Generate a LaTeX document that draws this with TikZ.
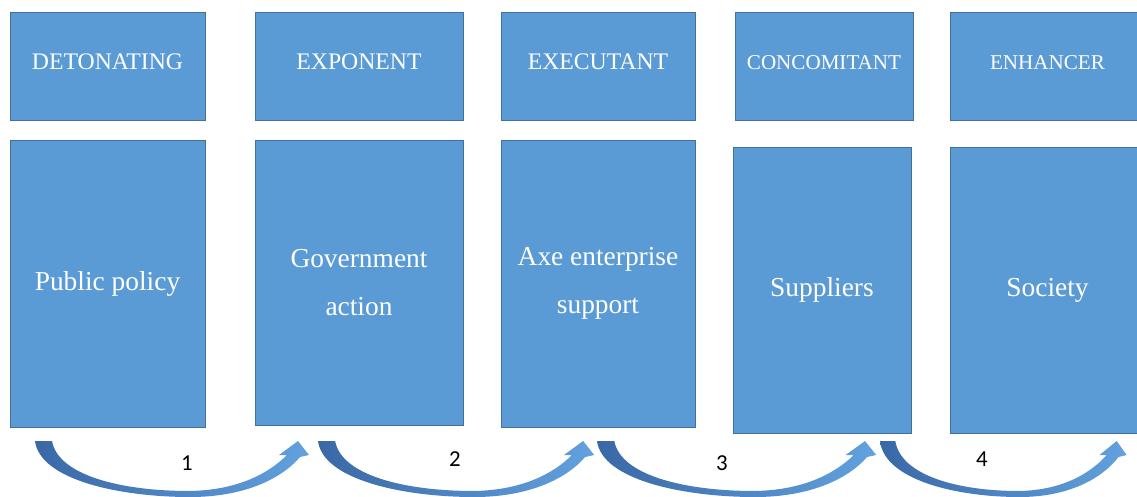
\documentclass[tikz,border=0pt]{standalone}
\usepackage{fontspec}
\setmainfont{Liberation Serif}
\newfontfamily\numfont{Carlito}

\definecolor{boxblue}{RGB}{91,155,213}
\definecolor{boxedge}{RGB}{65,113,156}
\definecolor{arrowdark}{RGB}{58,104,166}
\definecolor{arrowlight}{RGB}{98,162,222}

\tikzset{
  headbox/.style={draw=boxedge, fill=boxblue, line width=0.5pt, text=white,
    minimum height=2.16cm, inner sep=0pt, text height=9pt, text depth=4.7pt,
    font=\fontsize{13.5}{16}\selectfont},
  mainbox/.style={draw=boxedge, fill=boxblue, line width=0.5pt, text=white,
    inner sep=0pt, align=center, font=\fontsize{15.6}{27}\selectfont},
  stepnum/.style={font=\numfont\fontsize{13}{15}\selectfont, text=black},
  bentshade/.style={left color=arrowdark, right color=arrowlight}
}

% flecha curva: nombre, x inicial, escala horizontal
\newcommand{\bentarrow}[3]{%
  \begin{scope}[shift={(#2,441)}, xscale=#3]
    \coordinate (#1s) at (0,0);
    \coordinate (#1t) at (263,0);
    \path[bentshade] (#1s) .. controls (5,39) and (85,56) .. (155,56)
      .. controls (215,56) and (250,34) .. (265,16) -- (274,14) -- (#1t)
      -- (244,14) -- (252,14) .. controls (235,31) and (205,49) .. (155,50)
      .. controls (85,50) and (23,34) .. (17,0) -- cycle;
  \end{scope}}

\begin{document}
\begin{tikzpicture}[x=0.02cm, y=-0.02cm]
    \useasboundingbox (0,0) rectangle (1137,497);
    \clip (0,0) rectangle (1137,497);

    % Cajas superiores
    \node[headbox, minimum width=3.9cm] (h1) at (107.5,66) {DETONATING};
    \node[headbox, minimum width=4.16cm] (h2) at (359,66) {EXPONENT};
    \node[headbox, minimum width=3.88cm] (h3) at (598,66) {EXECUTANT};
    \node[headbox, minimum width=3.56cm, font=\fontsize{12}{14}\selectfont] (h4) at (824,66) {CONCOMITANT};
    \node[headbox, minimum width=3.9cm, font=\fontsize{12}{14}\selectfont] (h5) at (1047.5,66) {ENHANCER};

    % Cajas principales
    \node[mainbox, minimum width=3.9cm, minimum height=5.74cm] (m1) at (107.5,283.5) {Public policy};
    \node[mainbox, minimum width=4.16cm, minimum height=5.7cm] (m2) at (359,282.5) {Government\\action};
    \node[mainbox, minimum width=3.88cm, minimum height=5.74cm] (m3) at (598,283.5) {Axe enterprise\\support};
    \node[mainbox, minimum width=3.56cm, minimum height=5.72cm] (m4) at (822,290) {Suppliers};
    \node[mainbox, minimum width=3.9cm, minimum height=5.72cm] (m5) at (1047.5,290) {Society};

    % Flechas
    \bentarrow{a1}{35}{1}
    \bentarrow{a2}{318}{1.008}
    \bentarrow{a3}{597}{1.019}
    \bentarrow{a4}{880}{0.90}

    % Numeros
    \node[stepnum] (n1) at (187,463) {1};
    \node[stepnum] (n2) at (455,459) {2};
    \node[stepnum] (n3) at (722,463) {3};
    \node[stepnum] (n4) at (982,459) {4};
\end{tikzpicture}
\end{document}
